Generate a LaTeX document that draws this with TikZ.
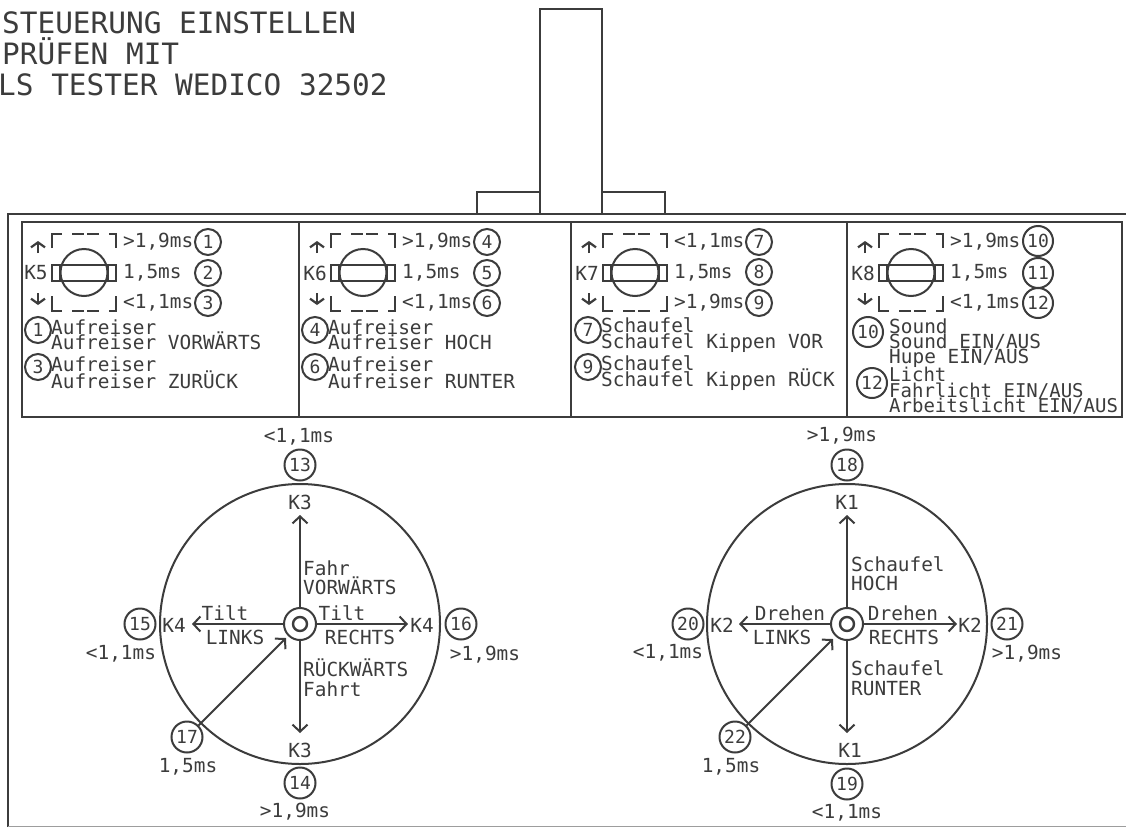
\documentclass[tikz,border=0pt]{standalone}
\usepackage{fontspec}
\setmainfont{DejaVu Sans Mono}
\usetikzlibrary{arrows.meta}
\definecolor{ink}{HTML}{3C3C3C}
\newcommand\fs[1]{\fontsize{#1}{#1}\selectfont}
\newcommand\fsb[2]{\fontsize{#1}{#2}\selectfont\lineskiplimit=-30pt\relax}
\tikzset{
  ln/.style={draw=ink,line width=2pt},
  frame/.style={draw=ink,line width=2.4pt},
  arr/.style={draw=ink,line width=2pt,-{Straight Barb[length=7pt,width=15pt,line width=2pt]}},
  sarr/.style={draw=ink,line width=2.2pt,-{Straight Barb[length=5pt,width=14pt,line width=2.2pt]}},
  txt/.style={text=ink,inner sep=0pt,font=\fs{19.4}},
  ltxt/.style={txt,anchor=west},
  block/.style={text=ink,inner sep=0pt,anchor=west,align=left,font=\fsb{19.4}{#1}},
  block/.default=15.5,
  num/.style={circle,draw=ink,line width=2pt,text=ink,inner sep=0pt,minimum size=26pt,font=\fs{18}},
  wnum/.style={num,minimum size=30pt},
  bignum/.style={num,minimum size=31pt},
}
% #1 x-offset, #2 id, #3 K label, #4 top time, #5 middle time, #6 bottom time
\newcommand\swpanel[6]{%
\begin{scope}[xshift=#1pt]
  \draw[ln] (52,248)--(52,234)--(62,234) (72,234)--(84,234) (87,234)--(99,234) (109,234)--(116,234)--(116,248);
  \draw[ln] (52,296)--(52,311)--(62,311) (72,311)--(84,311) (87,311)--(99,311) (109,311)--(116,311)--(116,296);
  \node[circle,draw=ink,line width=2pt,minimum size=47pt,inner sep=0pt] (dial#2) at (84,272.5) {};
  \node[draw=ink,line width=2pt,minimum width=64pt,minimum height=16pt,inner sep=0pt] (bar#2) at (84,272.5) {};
  \draw[ln] (60,264)--(60,281) (108,264)--(108,281);
  \node[txt] (k#2) at (36,273) {#3};
  \coordinate (ua#2) at (38,253); \coordinate (ub#2) at (38,241);
  \coordinate (da#2) at (38,293); \coordinate (db#2) at (38,305);
  \draw[sarr] (ua#2)--(ub#2);
  \draw[sarr] (da#2)--(db#2);
  \node[ltxt] (ta#2) at (123,242) {#4};
  \node[ltxt] (tb#2) at (123,273) {#5};
  \node[ltxt] (tc#2) at (123,303) {#6};
\end{scope}}
\begin{document}
\begin{tikzpicture}[x=1pt,y=-1pt]
\useasboundingbox (0,0) rectangle (1126,827);
\fill[white] (0,0) rectangle (1126,827);
% heading
\node[text=ink,inner sep=0pt,anchor=north west,align=left,font=\fsb{29.4}{31}] (h1) at (-2,11) {\hspace*{4pt}STEUERUNG EINSTELLEN\\\hspace*{4pt}PRÜFEN MIT\\LS TESTER WEDICO 32502};
% top shape
\draw[ln] (540,214)--(540,9)--(602,9)--(602,214);
\draw[ln] (477,214)--(477,192)--(540,192) (602,192)--(665,192)--(665,214);
% frames
\draw[frame] (8,827)--(8,214)--(1126,214);
\draw[frame] (22,222) rectangle (1122,417);
\draw[frame] (299,222)--(299,417) (571,222)--(571,417) (847,222)--(847,417);
\draw[draw=ink!50,line width=1pt] (8,826)--(1126,826);
% switches
\swpanel{0}{a}{K5}{>1,9ms}{1,5ms}{<1,1ms}
\swpanel{279}{b}{K6}{>1,9ms}{1,5ms}{<1,1ms}
\swpanel{551}{c}{K7}{<1,1ms}{1,5ms}{>1,9ms}
\swpanel{827}{d}{K8}{>1,9ms}{1,5ms}{<1,1ms}
% numbers beside switches
\node[num] (n1) at (208,242) {1};  \node[num] (n2) at (208,273) {2};  \node[num] (n3) at (208,303) {3};
\node[num] (n4) at (487,242) {4};  \node[num] (n5) at (487,273) {5};  \node[num] (n6) at (487,303) {6};
\node[num] (n7) at (759,242) {7};  \node[num] (n8) at (759,272) {8};  \node[num] (n9) at (759,303) {9};
\node[wnum] (n10) at (1038,241) {10}; \node[wnum] (n11) at (1038,273) {11}; \node[wnum] (n12) at (1038,303) {12};
% legends
\node[num] (l1) at (38,330) {1};
\node[block] (l1a) at (51,335) {Aufreiser\\Aufreiser VORWÄRTS};
\node[num] (l3) at (38,367) {3};
\node[block=16.5] (l3a) at (51,373) {Aufreiser\\Aufreiser ZURÜCK};
\node[num] (l4) at (315,330) {4};
\node[block] (l4a) at (328,335) {Aufreiser\\Aufreiser HOCH};
\node[num] (l6) at (315,367) {6};
\node[block=16.5] (l6a) at (328,373) {Aufreiser\\Aufreiser RUNTER};
\node[num] (l7) at (588,330) {7};
\node[block] (l7a) at (601,335) {Schaufel\\Schaufel Kippen VOR};
\node[num] (l9) at (588,367) {9};
\node[block=16] (l9a) at (601,373.5) {Schaufel\\Schaufel Kippen RÜCK};
\node[wnum] (l10) at (868,332) {10};
\node[block=15] (l10a) at (889,343) {Sound\\Sound EIN/AUS\\Hupe EIN/AUS};
\node[wnum] (l12) at (872,383) {12};
\node[block=15.5,font=\fsb{19}{15.5}] (l12a) at (889,391) {Licht\\Fahrlicht EIN/AUS\\Arbeitslicht EIN/AUS};
% left stick
\node[circle,draw=ink,line width=2pt,minimum size=280pt,inner sep=0pt] (dl) at (300,624) {};
\node[circle,draw=ink,line width=2pt,minimum size=32pt,inner sep=0pt] (hl) at (300,624) {};
\node[circle,draw=ink,line width=2.4pt,minimum size=14pt,inner sep=0pt] (il) at (300,624) {};
\coordinate (lu) at (300,515); \coordinate (ld) at (300,733);
\coordinate (ll) at (192,624); \coordinate (lr) at (408,624);
\coordinate (lc) at (286,638);
\draw[arr] (hl)--(lu); \draw[arr] (hl)--(ld); \draw[arr] (hl)--(ll); \draw[arr] (hl)--(lr);
\node[bignum] (n13) at (300,465) {13};
\node[bignum] (n14) at (300,783) {14};
\node[bignum] (n15) at (140,624) {15};
\node[bignum] (n16) at (461,624) {16};
\node[bignum] (n17) at (187,737) {17};
\draw[arr] (n17)--(lc);
\node[txt] (t13) at (299,437) {<1,1ms};
\node[txt] (t14) at (295,812) {>1,9ms};
\node[txt] (t15) at (121,654) {<1,1ms};
\node[txt] (t16) at (485,655) {>1,9ms};
\node[txt] (t17) at (188,767) {1,5ms};
\node[txt] (k3a) at (300,502) {K3};
\node[txt] (k3b) at (300,750) {K3};
\node[txt] (k4a) at (174,625) {K4};
\node[txt] (k4b) at (422,625) {K4};
\node[block=19] (fa) at (303,577.5) {Fahr\\VORWÄRTS};
\node[block=20] (ra) at (303,678) {RÜCKWÄRTS\\Fahrt};
\node[txt] (tl) at (225,613) {Tilt};
\node[txt] (tr) at (342,613) {Tilt};
\node[txt] (li) at (235,637) {LINKS};
\node[txt] (re) at (360,637) {RECHTS};
% right stick
\node[circle,draw=ink,line width=2pt,minimum size=280pt,inner sep=0pt] (dr) at (847,624) {};
\node[circle,draw=ink,line width=2pt,minimum size=32pt,inner sep=0pt] (hr) at (847,624) {};
\node[circle,draw=ink,line width=2.4pt,minimum size=14pt,inner sep=0pt] (ir) at (847,624) {};
\coordinate (ru) at (847,515); \coordinate (rd) at (847,733);
\coordinate (rl) at (739,624); \coordinate (rr) at (957,624);
\coordinate (rc) at (833,639);
\draw[arr] (hr)--(ru); \draw[arr] (hr)--(rd); \draw[arr] (hr)--(rl); \draw[arr] (hr)--(rr);
\node[bignum] (n18) at (847,465) {18};
\node[bignum] (n19) at (847,784) {19};
\node[bignum] (n20) at (688,624) {20};
\node[bignum] (n21) at (1007,624) {21};
\node[bignum] (n22) at (735,737) {22};
\draw[arr] (n22)--(rc);
\node[txt] (t18) at (842,436) {>1,9ms};
\node[txt] (t19) at (847,813) {<1,1ms};
\node[txt] (t20) at (668,653) {<1,1ms};
\node[txt] (t21) at (1027,654) {>1,9ms};
\node[txt] (t22) at (731,767) {1,5ms};
\node[txt] (k1a) at (847,502) {K1};
\node[txt] (k1b) at (850,750) {K1};
\node[txt] (k2a) at (722,625) {K2};
\node[txt] (k2b) at (970,625) {K2};
\node[block=19] (sa) at (851,573.5) {Schaufel\\HOCH};
\node[block=20] (sc) at (851,678) {Schaufel\\RUNTER};
\node[txt] (dl1) at (790,613) {Drehen};
\node[txt] (dr1) at (903,613) {Drehen};
\node[txt] (li2) at (782,637) {LINKS};
\node[txt] (re2) at (904,637) {RECHTS};
\end{tikzpicture}
\end{document}
